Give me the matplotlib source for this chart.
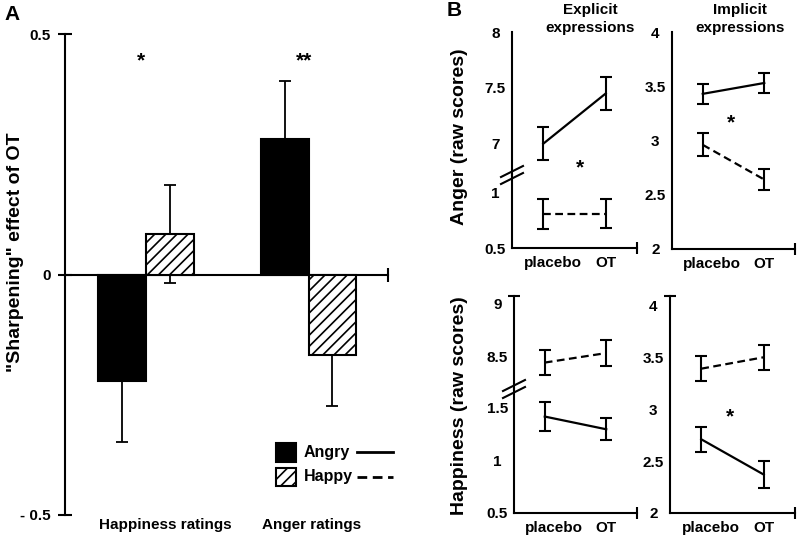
import numpy as np
import matplotlib
matplotlib.use('Agg')
import matplotlib.pyplot as plt
from matplotlib.patches import Rectangle
from matplotlib.lines import Line2D

plt.rcParams['font.family'] = ['Liberation Sans', 'DejaVu Sans']
plt.rcParams['font.weight'] = 'bold'
plt.rcParams['hatch.linewidth'] = 1.2

# panel A: "sharpening" effect of OT
bar_groups = ['Happiness ratings', 'Anger ratings']
sharp_angry = [-0.222, 0.281]
sharp_angry_err = [0.127, 0.122]
sharp_happy = [0.085, -0.168]
sharp_happy_err = [0.102, 0.106]
bar_stars = ['*', '**']

# panel B: raw scores, placebo vs OT
conditions = ['placebo', 'OT']
anger_expl_angry = [7.00, 7.45]
anger_expl_angry_err = [0.15, 0.15]
anger_expl_happy = [0.81, 0.81]
anger_expl_happy_err = [0.135, 0.13]
anger_impl_angry = [3.43, 3.53]
anger_impl_angry_err = [0.09, 0.09]
anger_impl_happy = [2.96, 2.64]
anger_impl_happy_err = [0.105, 0.095]
happy_expl_angry = [1.41, 1.29]
happy_expl_angry_err = [0.135, 0.105]
happy_expl_happy = [8.44, 8.53]
happy_expl_happy_err = [0.115, 0.125]
happy_impl_angry = [2.71, 2.37]
happy_impl_angry_err = [0.12, 0.13]
happy_impl_happy = [3.39, 3.50]
happy_impl_happy_err = [0.12, 0.12]

W, H = 800, 541
LW = 1.5
HATCH = '///'


def px_box(x0, y0, x1, y1):
    return [x0 / W, 1 - y1 / H, (x1 - x0) / W, (y1 - y0) / H]


def fx(x):
    return x / W


def fy(y):
    return 1 - y / H


fig = plt.figure(figsize=(8, 5.41), dpi=100)

# ---------------- panel A ----------------
ax = fig.add_axes(px_box(65, 34, 388, 515))
x = np.arange(len(bar_groups))
w = 0.295
ax.errorbar(x - w / 2, sharp_angry, yerr=sharp_angry_err, fmt='none', ecolor='black',
            elinewidth=1.3, capsize=4, capthick=1.3, zorder=2)
ax.errorbar(x + w / 2, sharp_happy, yerr=sharp_happy_err, fmt='none', ecolor='black',
            elinewidth=1.3, capsize=4, capthick=1.3, zorder=2)
ax.bar(x - w / 2, sharp_angry, w, color='black', edgecolor='black', linewidth=LW, zorder=3)
ax.bar(x + w / 2, sharp_happy, w, color='white', edgecolor='black', hatch=HATCH,
       linewidth=LW, zorder=3)
ax.set_xlim(-0.498, 1.489)
ax.set_ylim(-0.5, 0.5)
for s in ['top', 'right']:
    ax.spines[s].set_visible(False)
ax.spines['bottom'].set_position(('data', 0))
for s in ['left', 'bottom']:
    ax.spines[s].set_linewidth(LW)
ax.set_yticks([-0.5, 0, 0.5])
ax.set_yticklabels(['- 0.5', '0', '0.5'])
ax.tick_params(axis='y', direction='inout', length=10, width=LW, labelsize=11, pad=5)
ax.set_xticks([ax.get_xlim()[1]])
ax.set_xticklabels([''])
ax.tick_params(axis='x', direction='inout', length=10, width=LW)
label_x = [0.12, 1.02]
for lx, name in zip(label_x, bar_groups):
    ax.text(lx, -0.52, name, ha='center', va='center', fontsize=11)
for g, st in zip(x, bar_stars):
    ax.text(g - 0.03, 0.445, st, ha='center', va='center', fontsize=15)

fig.text(fx(16), fy(252), '"Sharpening" effect of OT', rotation=90, ha='center',
         va='center', fontsize=14)
fig.text(fx(4), fy(14), 'A', ha='left', va='center', fontsize=15)

# legend drawn by hand (box + text + line sample)
fig.add_artist(Rectangle((fx(276), fy(462)), 20 / W, 19 / H, transform=fig.transFigure,
                         facecolor='black', edgecolor='black', linewidth=LW))
fig.add_artist(Rectangle((fx(276), fy(486)), 20 / W, 18 / H, transform=fig.transFigure,
                         facecolor='white', edgecolor='black', hatch=HATCH, linewidth=LW))
fig.text(fx(304), fy(452), 'Angry', ha='left', va='center', fontsize=11.5)
fig.text(fx(304), fy(477), 'Happy', ha='left', va='center', fontsize=11.5)
fig.add_artist(Line2D([fx(357), fx(393)], [fy(452), fy(452)], color='black', lw=2))
fig.add_artist(Line2D([fx(357), fx(393)], [fy(477), fy(477)], color='black', lw=2,
                      linestyle=(0, (3.5, 2))))

# ---------------- panel B ----------------
XLIM = (-0.5, 1.5)
XT = [0.15, 1.0]


def draw_series(a, angry, angry_err, happy, happy_err):
    px = np.arange(len(conditions))
    a.errorbar(px, angry, yerr=angry_err, color='black', lw=1.6, elinewidth=1.5,
               capsize=4.5, capthick=1.5, clip_on=True)
    a.errorbar(px, happy, yerr=happy_err, color='black', lw=1.6, elinewidth=1.5,
               capsize=4.5, capthick=1.5, linestyle=(0, (3.5, 2)), clip_on=True)
    a.set_xlim(*XLIM)


def style_y(a, ticks, labels, ends):
    a.set_yticks(ticks)
    a.set_yticklabels(labels)
    for t in a.get_yticklabels():
        t.set_horizontalalignment('center')
    a.tick_params(axis='y', which='major', length=0, pad=12, labelsize=11)
    a.set_yticks(ends, minor=True)
    a.tick_params(axis='y', which='minor', direction='inout', length=9, width=LW)
    a.spines['left'].set_linewidth(LW)
    a.spines['right'].set_visible(False)
    a.spines['top'].set_visible(False)


def style_x(a):
    a.set_xticks(XT)
    a.set_xticklabels(conditions)
    a.tick_params(axis='x', which='major', length=0, pad=6, labelsize=11)
    a.set_xticks([XLIM[1]], minor=True)
    a.tick_params(axis='x', which='minor', direction='inout', length=9, width=LW)
    a.spines['bottom'].set_linewidth(LW)


def no_x(a):
    a.spines['bottom'].set_visible(False)
    a.set_xticks([])


def break_marks(xp, yp):
    for dy in (-3.5, 3.5):
        fig.add_artist(Line2D([fx(xp - 11), fx(xp + 11)], [fy(yp + dy + 5.5), fy(yp + dy - 5.5)],
                              color='black', lw=1.5))


def broken_panel(top_box, bot_box, top_lim, bot_lim, top_ticks, bot_ticks, series):
    at = fig.add_axes(px_box(*top_box))
    ab = fig.add_axes(px_box(*bot_box))
    for a in (at, ab):
        draw_series(a, *series)
    at.set_ylim(*top_lim)
    ab.set_ylim(*bot_lim)
    style_y(at, top_ticks, [f'{v:g}' for v in top_ticks], [top_lim[1]])
    style_y(ab, bot_ticks, [f'{v:g}' for v in bot_ticks], [bot_lim[0]])
    no_x(at)
    style_x(ab)
    break_marks(top_box[0], top_box[3])
    return at, ab


def single_panel(box, lim, ticks, series):
    a = fig.add_axes(px_box(*box))
    draw_series(a, *series)
    a.set_ylim(*lim)
    style_y(a, ticks, [f'{v:g}' for v in ticks], [lim[0], lim[1]])
    style_x(a)
    return a


broken_panel((512, 32, 637, 175), (512, 175, 637, 248), (6.72, 8.0), (0.5, 1.16),
             [7, 7.5, 8], [0.5, 1],
             (anger_expl_angry, anger_expl_angry_err, anger_expl_happy, anger_expl_happy_err))
single_panel((672, 32, 795, 249), (2, 4), [2, 2.5, 3, 3.5, 4],
             (anger_impl_angry, anger_impl_angry_err, anger_impl_happy, anger_impl_happy_err))
broken_panel((514, 296, 637, 389), (514, 389, 637, 513), (8.19, 9.07), (0.5, 1.67),
             [8.5, 9], [0.5, 1, 1.5],
             (happy_expl_angry, happy_expl_angry_err, happy_expl_happy, happy_expl_happy_err))
single_panel((670, 296, 795, 513), (2, 4.09), [2, 2.5, 3, 3.5, 4],
             (happy_impl_angry, happy_impl_angry_err, happy_impl_happy, happy_impl_happy_err))

fig.text(fx(590), fy(19), 'Explicit\nexpressions', ha='center', va='center', fontsize=11,
         linespacing=1.3)
fig.text(fx(740), fy(19), 'Implicit\nexpressions', ha='center', va='center', fontsize=11,
         linespacing=1.3)
fig.text(fx(460), fy(137), 'Anger (raw scores)', rotation=90, ha='center', va='center',
         fontsize=14)
fig.text(fx(460), fy(406), 'Happiness (raw scores)', rotation=90, ha='center', va='center',
         fontsize=14)
fig.text(fx(447), fy(10), 'B', ha='left', va='center', fontsize=15)
for sx, sy in [(580, 168), (731, 123), (730, 417)]:
    fig.text(fx(sx), fy(sy), '*', ha='center', va='center', fontsize=15)

fig.savefig('out.png', dpi=100)
